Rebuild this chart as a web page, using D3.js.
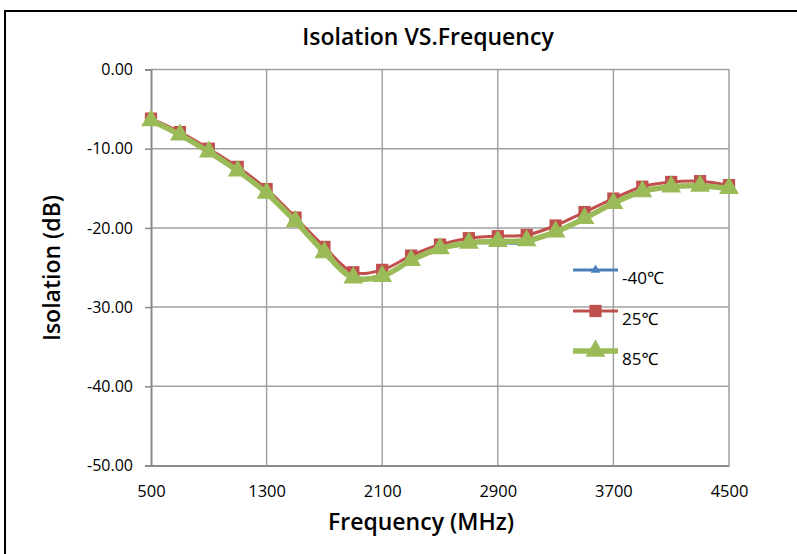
<!DOCTYPE html>
<html><head><meta charset="utf-8">
<script src="https://cdn.jsdelivr.net/npm/d3@7"></script>
<style>body{margin:0;background:#fff}svg{display:block}</style>
</head><body>
<svg id="c" width="797" height="554"></svg>
<script>
const freqs = [500,700,900,1100,1300,1500,1700,1900,2100,2300,2500,2700,2900,3100,3300,3500,3700,3900,4100,4300,4500];
const isoM40 = [-6.4,-8.2,-10.3,-12.7,-15.5,-19.1,-23.0,-26.2,-26.0,-24.1,-22.6,-21.9,-21.9,-21.8,-20.5,-18.7,-16.9,-15.4,-14.8,-14.7,-15.0];
const iso25  = [-6.2,-7.9,-10.0,-12.3,-15.1,-18.7,-22.4,-25.6,-25.3,-23.5,-22.1,-21.3,-21.05,-20.9,-19.7,-18.0,-16.3,-14.8,-14.2,-14.1,-14.6];
const iso85  = [-6.45,-8.25,-10.4,-12.8,-15.6,-19.2,-23.1,-26.3,-26.1,-24.1,-22.6,-21.9,-21.7,-21.6,-20.5,-18.8,-16.9,-15.4,-14.8,-14.7,-15.0];
const seriesNames = ["-40\u2103","25\u2103","85\u2103"];
const xTicks = [500,1300,2100,2900,3700,4500];
const yTicks = [0,-10,-20,-30,-40,-50];

const svg = d3.select("#c");
const font = "'Open Sans', 'Noto Sans', sans-serif";
// outer frame
svg.append("rect").attr("x",5).attr("y",11).attr("width",800).attr("height",560)
  .attr("fill","none").attr("stroke","#000").attr("stroke-width",2);

const x = d3.scaleLinear().domain([500,4500]).range([151,729]);
const y = d3.scaleLinear().domain([-50,0]).range([465.5,69.5]);

// gridlines
svg.append("g").selectAll("line.v").data(xTicks.slice(1)).join("line")
  .attr("x1",d=>x(d)).attr("x2",d=>x(d)).attr("y1",y(0)).attr("y2",y(-50))
  .attr("stroke","#a0a0a0").attr("stroke-width",1.5);
svg.append("g").selectAll("line.h").data(yTicks.slice(0,-1)).join("line")
  .attr("x1",x(500)).attr("x2",x(4500)).attr("y1",d=>y(d)).attr("y2",d=>y(d))
  .attr("stroke","#a0a0a0").attr("stroke-width",1.5);

// axes
const fmtY = d => d.toFixed(2);
const yAxis = svg.append("g").attr("transform",`translate(${x(500)},0)`)
  .call(d3.axisLeft(y).tickValues(yTicks).tickFormat(fmtY).tickSize(6).tickPadding(12));
yAxis.select(".domain").attr("stroke","#8c8c8c").attr("stroke-width",2);
yAxis.selectAll(".tick line").attr("stroke","#8c8c8c").attr("stroke-width",1.5);
yAxis.selectAll("text").attr("font-family",font).attr("font-size",16).attr("fill","#000");

const xAxis = svg.append("g").attr("transform",`translate(0,${y(-50)})`)
  .call(d3.axisBottom(x).tickValues(xTicks).tickFormat(d3.format("d")).tickSize(0).tickPadding(20));
xAxis.select(".domain").attr("stroke","#8c8c8c").attr("stroke-width",2);
xAxis.selectAll("text").attr("font-family",font).attr("font-size",16.5).attr("fill","#000");

// titles
svg.append("text").attr("x",428).attr("y",45).attr("text-anchor","middle")
  .attr("font-family",font).attr("font-size",23).attr("font-weight",600).text("Isolation VS.Frequency");
svg.append("text").attr("x",421).attr("y",530).attr("text-anchor","middle")
  .attr("font-family",font).attr("font-size",23).attr("font-weight",600).text("Frequency (MHz)");
svg.append("text").attr("transform","translate(60,268) rotate(-90)").attr("text-anchor","middle")
  .attr("font-family",font).attr("font-size",23).attr("font-weight",600).text("Isolation (dB)");

const line = d3.line().x((d,i)=>x(freqs[i])).y(d=>y(d)).curve(d3.curveCatmullRom.alpha(0.5));
const tri = (s)=>d3.symbol(d3.symbolTriangle, s);
const sq = d3.symbol(d3.symbolSquare, 150);

const series = [
  {vals: isoM40, color:"#4A7EBB", width:3, sym: tri(40)},
  {vals: iso25, color:"#C0504D", width:3, sym: sq},
  {vals: iso85, color:"#9BBB59", width:5.5, sym: tri(170)}
];
series.forEach(s=>{
  svg.append("path").attr("d",line(s.vals)).attr("fill","none")
    .attr("stroke",s.color).attr("stroke-width",s.width).attr("stroke-linejoin","round");
  svg.append("g").selectAll("path").data(s.vals).join("path")
    .attr("transform",(d,i)=>`translate(${x(freqs[i])},${y(d)})`)
    .attr("d",s.sym).attr("fill",s.color);
});

// legend
const legY = [270,311,351];
series.forEach((s,i)=>{
  const g = svg.append("g").attr("transform",`translate(573,${legY[i]})`);
  g.append("line").attr("x1",0).attr("x2",45).attr("y1",0).attr("y2",0)
    .attr("stroke",s.color).attr("stroke-width",s.width);
  g.append("path").attr("transform","translate(22.5,0)").attr("d",s.sym).attr("fill",s.color);
  g.append("text").attr("x",49).attr("y",14).attr("font-family",font).attr("font-size",17)
    .text(seriesNames[i]);
});
</script>
</body></html>
